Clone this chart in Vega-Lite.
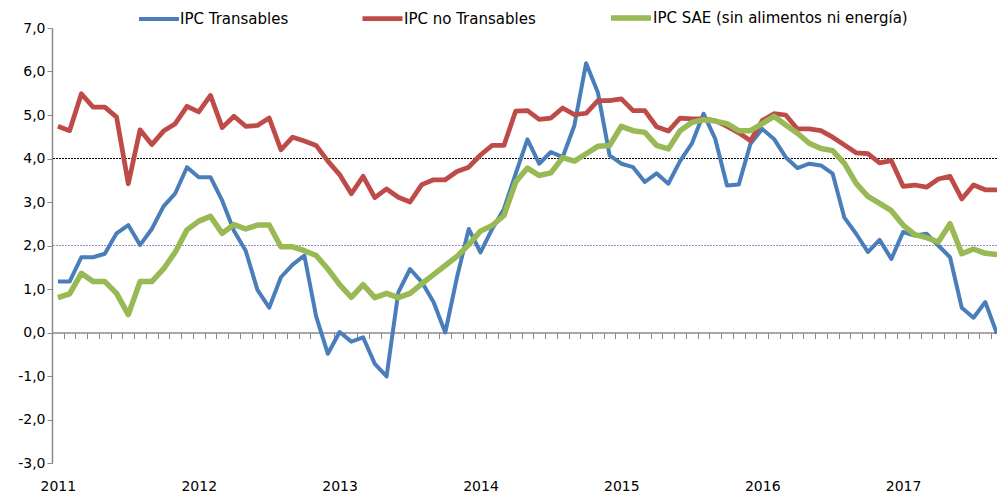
{
  "$schema": "https://vega.github.io/schema/vega-lite/v6.json",
  "autosize": "none",
  "width": 945,
  "height": 435,
  "padding": {"left": 52, "top": 28, "right": 0, "bottom": 32},
  "background": "white",
  "config": {
    "view": {"stroke": null},
    "font": "DejaVu Sans"
  },
  "data": {"values": [
    {"t":0,"IPC Transables":1.17,"IPC no Transables":4.74,"IPC SAE (sin alimentos ni energía)":0.80},
    {"t":1,"IPC Transables":1.17,"IPC no Transables":4.64,"IPC SAE (sin alimentos ni energía)":0.89},
    {"t":2,"IPC Transables":1.73,"IPC no Transables":5.49,"IPC SAE (sin alimentos ni energía)":1.36},
    {"t":3,"IPC Transables":1.73,"IPC no Transables":5.18,"IPC SAE (sin alimentos ni energía)":1.17},
    {"t":4,"IPC Transables":1.81,"IPC no Transables":5.18,"IPC SAE (sin alimentos ni energía)":1.17},
    {"t":5,"IPC Transables":2.28,"IPC no Transables":4.95,"IPC SAE (sin alimentos ni energía)":0.90},
    {"t":6,"IPC Transables":2.47,"IPC no Transables":3.42,"IPC SAE (sin alimentos ni energía)":0.41},
    {"t":7,"IPC Transables":2.01,"IPC no Transables":4.66,"IPC SAE (sin alimentos ni energía)":1.17},
    {"t":8,"IPC Transables":2.38,"IPC no Transables":4.32,"IPC SAE (sin alimentos ni energía)":1.17},
    {"t":9,"IPC Transables":2.90,"IPC no Transables":4.63,"IPC SAE (sin alimentos ni energía)":1.46},
    {"t":10,"IPC Transables":3.20,"IPC no Transables":4.80,"IPC SAE (sin alimentos ni energía)":1.85},
    {"t":11,"IPC Transables":3.80,"IPC no Transables":5.20,"IPC SAE (sin alimentos ni energía)":2.36},
    {"t":12,"IPC Transables":3.57,"IPC no Transables":5.07,"IPC SAE (sin alimentos ni energía)":2.56},
    {"t":13,"IPC Transables":3.57,"IPC no Transables":5.45,"IPC SAE (sin alimentos ni energía)":2.67},
    {"t":14,"IPC Transables":3.03,"IPC no Transables":4.71,"IPC SAE (sin alimentos ni energía)":2.28},
    {"t":15,"IPC Transables":2.34,"IPC no Transables":4.97,"IPC SAE (sin alimentos ni energía)":2.48},
    {"t":16,"IPC Transables":1.88,"IPC no Transables":4.74,"IPC SAE (sin alimentos ni energía)":2.38},
    {"t":17,"IPC Transables":0.98,"IPC no Transables":4.76,"IPC SAE (sin alimentos ni energía)":2.47},
    {"t":18,"IPC Transables":0.57,"IPC no Transables":4.93,"IPC SAE (sin alimentos ni energía)":2.47},
    {"t":19,"IPC Transables":1.27,"IPC no Transables":4.20,"IPC SAE (sin alimentos ni energía)":1.97},
    {"t":20,"IPC Transables":1.56,"IPC no Transables":4.49,"IPC SAE (sin alimentos ni energía)":1.97},
    {"t":21,"IPC Transables":1.77,"IPC no Transables":4.40,"IPC SAE (sin alimentos ni energía)":1.88},
    {"t":22,"IPC Transables":0.37,"IPC no Transables":4.30,"IPC SAE (sin alimentos ni energía)":1.77},
    {"t":23,"IPC Transables":-0.49,"IPC no Transables":3.94,"IPC SAE (sin alimentos ni energía)":1.46},
    {"t":24,"IPC Transables":0.01,"IPC no Transables":3.63,"IPC SAE (sin alimentos ni energía)":1.10},
    {"t":25,"IPC Transables":-0.21,"IPC no Transables":3.19,"IPC SAE (sin alimentos ni energía)":0.81},
    {"t":26,"IPC Transables":-0.11,"IPC no Transables":3.59,"IPC SAE (sin alimentos ni energía)":1.10},
    {"t":27,"IPC Transables":-0.72,"IPC no Transables":3.10,"IPC SAE (sin alimentos ni energía)":0.80},
    {"t":28,"IPC Transables":-1.01,"IPC no Transables":3.30,"IPC SAE (sin alimentos ni energía)":0.90},
    {"t":29,"IPC Transables":0.92,"IPC no Transables":3.11,"IPC SAE (sin alimentos ni energía)":0.80},
    {"t":30,"IPC Transables":1.46,"IPC no Transables":3.00,"IPC SAE (sin alimentos ni energía)":0.90},
    {"t":31,"IPC Transables":1.16,"IPC no Transables":3.40,"IPC SAE (sin alimentos ni energía)":1.12},
    {"t":32,"IPC Transables":0.70,"IPC no Transables":3.51,"IPC SAE (sin alimentos ni energía)":1.33},
    {"t":33,"IPC Transables":0.00,"IPC no Transables":3.51,"IPC SAE (sin alimentos ni energía)":1.54},
    {"t":34,"IPC Transables":1.27,"IPC no Transables":3.70,"IPC SAE (sin alimentos ni energía)":1.75},
    {"t":35,"IPC Transables":2.38,"IPC no Transables":3.80,"IPC SAE (sin alimentos ni energía)":2.02},
    {"t":36,"IPC Transables":1.84,"IPC no Transables":4.08,"IPC SAE (sin alimentos ni energía)":2.33},
    {"t":37,"IPC Transables":2.38,"IPC no Transables":4.30,"IPC SAE (sin alimentos ni energía)":2.46},
    {"t":38,"IPC Transables":2.84,"IPC no Transables":4.30,"IPC SAE (sin alimentos ni energía)":2.69},
    {"t":39,"IPC Transables":3.65,"IPC no Transables":5.09,"IPC SAE (sin alimentos ni energía)":3.46},
    {"t":40,"IPC Transables":4.44,"IPC no Transables":5.10,"IPC SAE (sin alimentos ni energía)":3.78},
    {"t":41,"IPC Transables":3.88,"IPC no Transables":4.90,"IPC SAE (sin alimentos ni energía)":3.61},
    {"t":42,"IPC Transables":4.15,"IPC no Transables":4.93,"IPC SAE (sin alimentos ni energía)":3.67},
    {"t":43,"IPC Transables":4.03,"IPC no Transables":5.16,"IPC SAE (sin alimentos ni energía)":4.02},
    {"t":44,"IPC Transables":4.76,"IPC no Transables":5.01,"IPC SAE (sin alimentos ni energía)":3.94},
    {"t":45,"IPC Transables":6.19,"IPC no Transables":5.04,"IPC SAE (sin alimentos ni energía)":4.11},
    {"t":46,"IPC Transables":5.52,"IPC no Transables":5.33,"IPC SAE (sin alimentos ni energía)":4.28},
    {"t":47,"IPC Transables":4.07,"IPC no Transables":5.33,"IPC SAE (sin alimentos ni energía)":4.30},
    {"t":48,"IPC Transables":3.88,"IPC no Transables":5.37,"IPC SAE (sin alimentos ni energía)":4.74},
    {"t":49,"IPC Transables":3.80,"IPC no Transables":5.10,"IPC SAE (sin alimentos ni energía)":4.64},
    {"t":50,"IPC Transables":3.46,"IPC no Transables":5.10,"IPC SAE (sin alimentos ni energía)":4.60},
    {"t":51,"IPC Transables":3.66,"IPC no Transables":4.73,"IPC SAE (sin alimentos ni energía)":4.30},
    {"t":52,"IPC Transables":3.42,"IPC no Transables":4.63,"IPC SAE (sin alimentos ni energía)":4.22},
    {"t":53,"IPC Transables":3.94,"IPC no Transables":4.93,"IPC SAE (sin alimentos ni energía)":4.64},
    {"t":54,"IPC Transables":4.34,"IPC no Transables":4.91,"IPC SAE (sin alimentos ni energía)":4.83},
    {"t":55,"IPC Transables":5.03,"IPC no Transables":4.91,"IPC SAE (sin alimentos ni energía)":4.89},
    {"t":56,"IPC Transables":4.45,"IPC no Transables":4.87,"IPC SAE (sin alimentos ni energía)":4.86},
    {"t":57,"IPC Transables":3.38,"IPC no Transables":4.74,"IPC SAE (sin alimentos ni energía)":4.80},
    {"t":58,"IPC Transables":3.40,"IPC no Transables":4.59,"IPC SAE (sin alimentos ni energía)":4.64},
    {"t":59,"IPC Transables":4.34,"IPC no Transables":4.41,"IPC SAE (sin alimentos ni energía)":4.64},
    {"t":60,"IPC Transables":4.68,"IPC no Transables":4.87,"IPC SAE (sin alimentos ni energía)":4.80},
    {"t":61,"IPC Transables":4.45,"IPC no Transables":5.03,"IPC SAE (sin alimentos ni energía)":4.97},
    {"t":62,"IPC Transables":4.03,"IPC no Transables":5.00,"IPC SAE (sin alimentos ni energía)":4.77},
    {"t":63,"IPC Transables":3.78,"IPC no Transables":4.68,"IPC SAE (sin alimentos ni energía)":4.58},
    {"t":64,"IPC Transables":3.88,"IPC no Transables":4.68,"IPC SAE (sin alimentos ni energía)":4.35},
    {"t":65,"IPC Transables":3.84,"IPC no Transables":4.64,"IPC SAE (sin alimentos ni energía)":4.23},
    {"t":66,"IPC Transables":3.65,"IPC no Transables":4.49,"IPC SAE (sin alimentos ni energía)":4.18},
    {"t":67,"IPC Transables":2.64,"IPC no Transables":4.31,"IPC SAE (sin alimentos ni energía)":3.89},
    {"t":68,"IPC Transables":2.27,"IPC no Transables":4.13,"IPC SAE (sin alimentos ni energía)":3.43},
    {"t":69,"IPC Transables":1.85,"IPC no Transables":4.11,"IPC SAE (sin alimentos ni energía)":3.13},
    {"t":70,"IPC Transables":2.13,"IPC no Transables":3.90,"IPC SAE (sin alimentos ni energía)":2.97},
    {"t":71,"IPC Transables":1.69,"IPC no Transables":3.95,"IPC SAE (sin alimentos ni energía)":2.80},
    {"t":72,"IPC Transables":2.31,"IPC no Transables":3.36,"IPC SAE (sin alimentos ni energía)":2.47},
    {"t":73,"IPC Transables":2.23,"IPC no Transables":3.39,"IPC SAE (sin alimentos ni energía)":2.25},
    {"t":74,"IPC Transables":2.27,"IPC no Transables":3.34,"IPC SAE (sin alimentos ni energía)":2.18},
    {"t":75,"IPC Transables":2.00,"IPC no Transables":3.53,"IPC SAE (sin alimentos ni energía)":2.08},
    {"t":76,"IPC Transables":1.73,"IPC no Transables":3.59,"IPC SAE (sin alimentos ni energía)":2.50},
    {"t":77,"IPC Transables":0.57,"IPC no Transables":3.07,"IPC SAE (sin alimentos ni energía)":1.81},
    {"t":78,"IPC Transables":0.34,"IPC no Transables":3.39,"IPC SAE (sin alimentos ni energía)":1.92},
    {"t":79,"IPC Transables":0.70,"IPC no Transables":3.28,"IPC SAE (sin alimentos ni energía)":1.82},
    {"t":80,"IPC Transables":-0.03,"IPC no Transables":3.28,"IPC SAE (sin alimentos ni energía)":1.79}
  ]},
  "layer": [
    {
      "mark": {"type": "rule", "stroke": "#000000", "strokeWidth": 1, "strokeDash": [1.5, 1.5]},
      "encoding": {"y": {"datum": 4, "type": "quantitative"}}
    },
    {
      "mark": {"type": "rule", "stroke": "#9c8cc6", "strokeWidth": 1, "strokeDash": [1.5, 1.5]},
      "encoding": {"y": {"datum": 2, "type": "quantitative"}}
    },
    {
      "transform": [
        {"fold": ["IPC Transables", "IPC no Transables", "IPC SAE (sin alimentos ni energía)"], "as": ["serie", "v"]}
      ],
      "mark": {"type": "line", "strokeJoin": "round", "strokeCap": "butt"},
      "encoding": {
        "x": {
          "field": "t", "type": "quantitative",
          "scale": {"domain": [-0.5, 80], "nice": false, "zero": false},
          "axis": {
            "orient": "bottom",
            "offset": -130.5,
            "title": null,
            "grid": false,
            "values": [-0.5,0.5,1.5,2.5,3.5,4.5,5.5,6.5,7.5,8.5,9.5,10.5,11.5,12.5,13.5,14.5,15.5,16.5,17.5,18.5,19.5,20.5,21.5,22.5,23.5,24.5,25.5,26.5,27.5,28.5,29.5,30.5,31.5,32.5,33.5,34.5,35.5,36.5,37.5,38.5,39.5,40.5,41.5,42.5,43.5,44.5,45.5,46.5,47.5,48.5,49.5,50.5,51.5,52.5,53.5,54.5,55.5,56.5,57.5,58.5,59.5,60.5,61.5,62.5,63.5,64.5,65.5,66.5,67.5,68.5,69.5,70.5,71.5,72.5,73.5,74.5,75.5,76.5,77.5,78.5,79.5],
            "labelExpr": "(datum.value + 0.5) % 12 == 0 ? toString(2011 + (datum.value + 0.5) / 12) : ''",
            "labelOffset": 5.87,
            "labelPadding": 141,
            "labelFlush": false,
            "labelOverlap": false,
            "labelFont": "DejaVu Sans",
            "labelFontSize": 14,
            "labelColor": "#000000",
            "tickSize": 6,
            "tickColor": "#8a8a8a",
            "domainColor": "#8a8a8a",
            "domainWidth": 1.5
          }
        },
        "y": {
          "field": "v", "type": "quantitative",
          "scale": {"domain": [-3, 7], "nice": false, "zero": false},
          "axis": {
            "title": null,
            "grid": false,
            "values": [-3, -2, -1, 0, 1, 2, 3, 4, 5, 6, 7],
            "labelExpr": "replace(replace(format(datum.value, '.1f'), '.', ','), '−', '-')",
            "labelFont": "DejaVu Sans",
            "labelFontSize": 14,
            "labelColor": "#000000",
            "labelPadding": 2,
            "tickSize": 5,
            "tickColor": "#8a8a8a",
            "domainColor": "#8a8a8a",
            "domainWidth": 1.5
          }
        },
        "color": {
          "field": "serie", "type": "nominal",
          "scale": {
            "domain": ["IPC Transables", "IPC no Transables", "IPC SAE (sin alimentos ni energía)"],
            "range": ["#4a7ebb", "#be4b48", "#98b954"]
          },
          "legend": {
            "title": null,
            "orient": "none",
            "legendX": 85,
            "legendY": -33,
            "direction": "horizontal",
            "symbolType": "stroke",
            "symbolSize": 1600,
            "symbolStrokeWidth": 4.5,
            "labelFont": "DejaVu Sans",
            "labelFontSize": 15,
            "labelColor": "#000000",
            "labelLimit": 400,
            "labelOffset": -1,
            "columnPadding": 64
          }
        },
        "strokeWidth": {
          "field": "serie", "type": "nominal",
          "scale": {
            "domain": ["IPC Transables", "IPC no Transables", "IPC SAE (sin alimentos ni energía)"],
            "range": [4, 5.5, 4]
          },
          "legend": null
        }
      }
    }
  ]
}
